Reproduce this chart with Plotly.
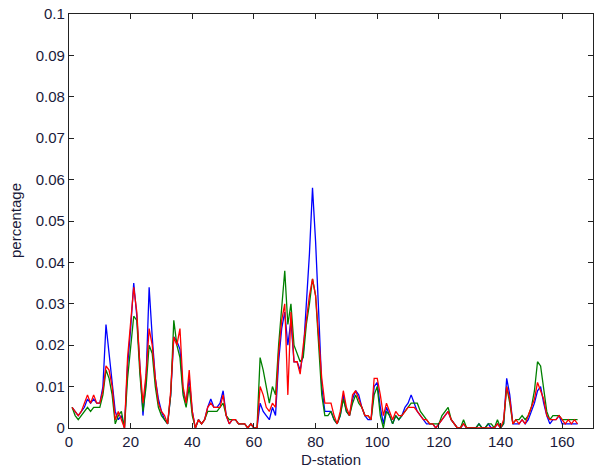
import plotly.graph_objects as go

stations = list(range(1, 166))

blue = [
    0.005, 0.004, 0.003, 0.004, 0.005, 0.007, 0.006, 0.007, 0.006, 0.006,
    0.010, 0.025, 0.018, 0.012, 0.004, 0.002, 0.003, 0.000, 0.015, 0.024,
    0.035, 0.027, 0.014, 0.003, 0.012, 0.034, 0.022, 0.012, 0.007, 0.004,
    0.002, 0.001, 0.008, 0.022, 0.021, 0.019, 0.009, 0.006, 0.012, 0.004,
    0.000, 0.002, 0.001, 0.002, 0.005, 0.007, 0.005, 0.005, 0.006, 0.009,
    0.003, 0.001, 0.002, 0.002, 0.001, 0.001, 0.001, 0.000, 0.001, 0.000,
    0.000, 0.006, 0.004, 0.003, 0.002, 0.005, 0.003, 0.016, 0.024, 0.028,
    0.020, 0.026, 0.016, 0.016, 0.014, 0.018, 0.029, 0.042, 0.058, 0.045,
    0.028, 0.010, 0.004, 0.004, 0.004, 0.002, 0.001, 0.003, 0.008, 0.004,
    0.003, 0.007, 0.009, 0.008, 0.005, 0.003, 0.002, 0.002, 0.010, 0.011,
    0.005, 0.001, 0.005, 0.003, 0.001, 0.003, 0.002, 0.003, 0.005, 0.006,
    0.008, 0.006, 0.004, 0.003, 0.002, 0.001, 0.001, 0.001, 0.000, 0.001,
    0.002, 0.003, 0.004, 0.002, 0.001, 0.000, 0.000, 0.001, 0.000, 0.000,
    0.000, 0.000, 0.001, 0.000, 0.000, 0.001, 0.000, 0.000, 0.001, 0.000,
    0.001, 0.012, 0.008, 0.001, 0.001, 0.001, 0.002, 0.001, 0.002, 0.004,
    0.006, 0.009, 0.010, 0.006, 0.003, 0.001, 0.002, 0.002, 0.003, 0.001,
    0.001, 0.001, 0.001, 0.001, 0.001,
]

green = [
    0.005, 0.003, 0.002, 0.003, 0.004, 0.005, 0.004, 0.005, 0.005, 0.005,
    0.008, 0.014, 0.012, 0.008, 0.001, 0.003, 0.004, 0.000, 0.012, 0.020,
    0.027, 0.026, 0.013, 0.004, 0.010, 0.020, 0.018, 0.010, 0.005, 0.003,
    0.002, 0.001, 0.008, 0.026, 0.020, 0.017, 0.008, 0.005, 0.010, 0.003,
    0.000, 0.002, 0.001, 0.002, 0.004, 0.004, 0.004, 0.004, 0.005, 0.006,
    0.003, 0.002, 0.002, 0.002, 0.001, 0.001, 0.001, 0.000, 0.001, 0.000,
    0.000, 0.017, 0.014, 0.010, 0.006, 0.010, 0.008, 0.020, 0.030, 0.038,
    0.025, 0.030, 0.020, 0.018, 0.016, 0.017, 0.025, 0.030, 0.036, 0.032,
    0.020, 0.008, 0.003, 0.003, 0.004, 0.002, 0.001, 0.003, 0.007, 0.004,
    0.003, 0.006, 0.008, 0.006, 0.005, 0.003, 0.003, 0.002, 0.008, 0.010,
    0.003, 0.000, 0.004, 0.003, 0.001, 0.003, 0.002, 0.003, 0.004, 0.005,
    0.006, 0.006, 0.006, 0.004, 0.003, 0.002, 0.001, 0.001, 0.001, 0.001,
    0.003, 0.004, 0.005, 0.002, 0.001, 0.000, 0.000, 0.002, 0.000, 0.000,
    0.000, 0.000, 0.001, 0.000, 0.000, 0.001, 0.001, 0.000, 0.002, 0.000,
    0.001, 0.010, 0.006, 0.001, 0.002, 0.002, 0.003, 0.002, 0.003, 0.005,
    0.009, 0.016, 0.015, 0.010, 0.004, 0.002, 0.003, 0.003, 0.003, 0.002,
    0.002, 0.002, 0.002, 0.002, 0.002,
]

red = [
    0.005, 0.004, 0.003, 0.004, 0.006, 0.008, 0.006, 0.008, 0.006, 0.006,
    0.009, 0.015, 0.014, 0.010, 0.002, 0.004, 0.002, 0.000, 0.017, 0.026,
    0.034, 0.028, 0.015, 0.006, 0.013, 0.024, 0.020, 0.012, 0.006, 0.004,
    0.003, 0.001, 0.009, 0.022, 0.020, 0.024, 0.010, 0.006, 0.014, 0.004,
    0.000, 0.002, 0.001, 0.002, 0.005, 0.006, 0.005, 0.005, 0.005, 0.008,
    0.003, 0.001, 0.002, 0.002, 0.001, 0.001, 0.001, 0.000, 0.001, 0.000,
    0.000, 0.010, 0.008, 0.005, 0.004, 0.006, 0.005, 0.018, 0.026, 0.030,
    0.008, 0.028, 0.016, 0.016, 0.013, 0.020, 0.026, 0.032, 0.036, 0.032,
    0.022, 0.012, 0.006, 0.006, 0.006, 0.003, 0.001, 0.004, 0.009, 0.005,
    0.003, 0.008, 0.009, 0.007, 0.005, 0.003, 0.003, 0.002, 0.012, 0.012,
    0.008, 0.003, 0.006, 0.004, 0.002, 0.004, 0.003, 0.003, 0.004, 0.005,
    0.005, 0.005, 0.004, 0.003, 0.002, 0.002, 0.001, 0.001, 0.000, 0.001,
    0.002, 0.003, 0.004, 0.002, 0.001, 0.000, 0.000, 0.001, 0.000, 0.000,
    0.000, 0.000, 0.000, 0.000, 0.000, 0.000, 0.000, 0.000, 0.001, 0.000,
    0.002, 0.010, 0.007, 0.001, 0.002, 0.001, 0.002, 0.001, 0.003, 0.005,
    0.007, 0.011, 0.009, 0.007, 0.003, 0.002, 0.002, 0.002, 0.003, 0.002,
    0.001, 0.002, 0.001, 0.002, 0.001,
]

x_ticks = [0, 20, 40, 60, 80, 100, 120, 140, 160]
y_ticks = [0, 0.01, 0.02, 0.03, 0.04, 0.05, 0.06, 0.07, 0.08, 0.09, 0.1]
y_labels = ["0", "0.01", "0.02", "0.03", "0.04", "0.05", "0.06", "0.07", "0.08", "0.09", "0.1"]

text_color = "#1a1a3a"

fig = go.Figure()
for name, vals, color in [("blue", blue, "#0000ff"), ("green", green, "#008000"), ("red", red, "#ff0000")]:
    fig.add_trace(go.Scatter(
        x=stations, y=vals, mode="lines", name=name,
        line=dict(color=color, width=1.3),
    ))

axis_common = dict(
    showline=True, mirror="ticks", linecolor="#222222", linewidth=1.2,
    ticks="inside", ticklen=5, tickcolor="#222222",
    showgrid=False, zeroline=False, automargin=False,
    ticklabeloverflow="allow",
    tickfont=dict(family="Arial", size=15, color=text_color),
)

fig.update_xaxes(range=[0, 170], tickvals=x_ticks, **axis_common)
fig.update_yaxes(range=[0, 0.1], tickvals=y_ticks, ticktext=y_labels, **axis_common)

# axis titles placed as annotations so the margins stay fixed
fig.add_annotation(
    text="D-station", xref="paper", yref="paper", x=0.5, y=0,
    yshift=-31, showarrow=False, yanchor="middle",
    font=dict(family="Arial", size=15, color=text_color),
)
fig.add_annotation(
    text="percentage", xref="paper", yref="paper", x=0, y=0.5,
    xshift=-54, showarrow=False, textangle=-90, xanchor="center",
    font=dict(family="Arial", size=15, color=text_color),
)

fig.update_layout(
    width=600, height=473,
    margin=dict(l=69, r=7, t=14, b=45),
    paper_bgcolor="white", plot_bgcolor="white",
    showlegend=False,
)

# drop the default 8px body margin so the figure fills the window
fig.write_html(
    "out.html",
    config={"displayModeBar": False},
    post_script="document.body.style.margin='0';",
)
